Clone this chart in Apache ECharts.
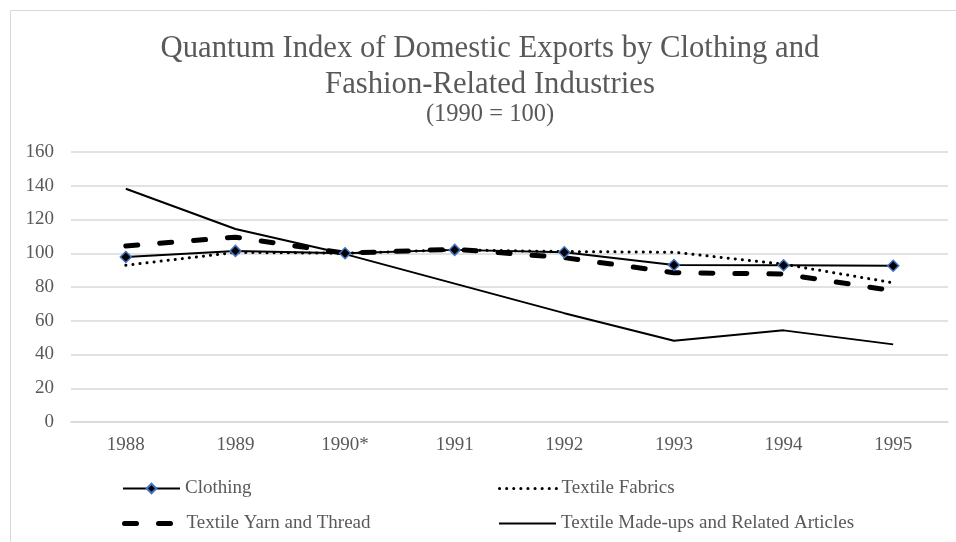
<!DOCTYPE html>
<html>
<head>
<meta charset="utf-8">
<style>
  html, body { margin: 0; padding: 0; background: #fff; }
  #chart { width: 956px; height: 542px; }
</style>
<script src="https://cdn.jsdelivr.net/npm/echarts@6/dist/echarts.min.js"></script>
</head>
<body>
<div id="chart"></div>
<script>
// Quantum index (1990 = 100) by industry group
const years = ['1988', '1989', '1990*', '1991', '1992', '1993', '1994', '1995'];
const clothing = [97.8, 101.4, 100, 102, 100.6, 93, 92.9, 92.6];
const textileFabrics = [92.9, 100.5, 100, 102, 101, 100.6, 93.5, 82.5];
const yarnAndThread = [104.3, 109.5, 100, 102.4, 97.4, 88.5, 87.7, 77.8];
const madeUps = [138.2, 114.4, 99.5, 82, 64.5, 48.1, 54.3, 46];
const yTicks = { min: 0, max: 160, interval: 20 };

const FONT = '"Liberation Serif", "Times New Roman", serif';
const GREY = '#595959';

const chart = echarts.init(document.getElementById('chart'), null, { renderer: 'canvas' });

// one legend box per entry so each sits in its own column/row
function legendAt(name, left, top, lineWidth, hideSymbol) {
  const lg = {
    data: [name], left: left, top: top, orient: 'horizontal',
    itemWidth: 57, itemHeight: 12, itemGap: 6,
    textStyle: { fontFamily: FONT, fontSize: 19, color: GREY },
    lineStyle: { width: lineWidth },
    selectedMode: false
  };
  if (hideSymbol) lg.itemStyle = { opacity: 0 };
  return lg;
}

chart.setOption({
  backgroundColor: '#fff',
  animation: false,
  title: [
    {
      text: 'Quantum Index of Domestic Exports by Clothing and\nFashion-Related Industries',
      left: 485, textAlign: 'center', top: 26,
      textStyle: { fontFamily: FONT, fontSize: 30.7, fontWeight: 'normal', color: GREY, lineHeight: 36 }
    },
    {
      text: '(1990 = 100)',
      left: 485, textAlign: 'center', top: 97,
      textStyle: { fontFamily: FONT, fontSize: 24.5, fontWeight: 'normal', color: GREY, lineHeight: 25 }
    }
  ],
  graphic: [{
    type: 'rect', silent: true, z: -10,
    shape: { x: 10.5, y: 10.5, width: 960, height: 560 },
    style: { fill: 'none', stroke: '#d9d9d9', lineWidth: 1 }
  }],
  legend: [
    legendAt('Clothing', 117, 474, 2, false),
    legendAt('Textile Fabrics', 493, 474, 3, true),
    legendAt('Textile Yarn and Thread', 117, 509, 5, true),
    legendAt('Textile Made-ups and Related Articles', 493, 509, 2, true)
  ],
  grid: { left: 71, right: 8, top: 152, bottom: 120 },
  xAxis: {
    type: 'category', data: years, boundaryGap: true,
    axisLine: { show: true, lineStyle: { color: '#d9d9d9', width: 1.5 } },
    axisTick: { show: false },
    axisLabel: { fontFamily: FONT, fontSize: 19, color: GREY, margin: 14 }
  },
  yAxis: {
    type: 'value', min: yTicks.min, max: yTicks.max, interval: yTicks.interval,
    axisLine: { show: false }, axisTick: { show: false },
    splitLine: { lineStyle: { color: '#d9d9d9', width: 1.5 } },
    axisLabel: { fontFamily: FONT, fontSize: 19, color: GREY, margin: 17 }
  },
  series: [
    {
      name: 'Textile Made-ups and Related Articles', type: 'line', data: madeUps,
      symbol: 'none', z: 2,
      lineStyle: { color: '#000', width: 2 },
      itemStyle: { color: '#000' }
    },
    {
      name: 'Textile Yarn and Thread', type: 'line', data: yarnAndThread,
      symbol: 'none', z: 3,
      lineStyle: { color: '#000', width: 5, type: [12, 22], cap: 'round' },
      itemStyle: { color: '#000' }
    },
    {
      name: 'Textile Fabrics', type: 'line', data: textileFabrics,
      symbol: 'none', z: 4,
      lineStyle: { color: '#000', width: 3, type: [0.1, 7], cap: 'round' },
      itemStyle: { color: '#000' }
    },
    {
      name: 'Clothing', type: 'line', data: clothing,
      symbol: 'diamond', symbolSize: 11, z: 5,
      lineStyle: { color: '#000', width: 2 },
      itemStyle: { color: '#000', borderColor: '#4472c4', borderWidth: 1.5 }
    }
  ]
});
</script>
</body>
</html>
